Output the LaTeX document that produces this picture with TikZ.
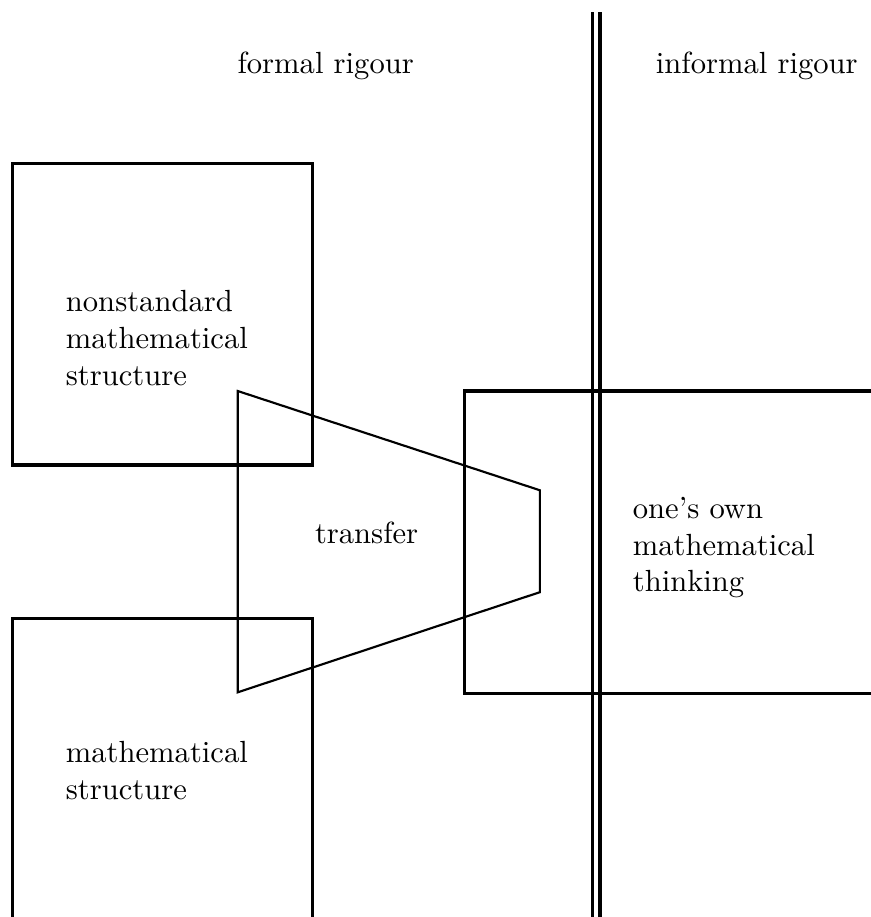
\documentclass[tikz,border=0pt]{standalone}
\usepackage{tikz}

\tikzset{
    frame/.style={line width=1pt},
    txt/.style={inner sep=0pt, align=left, anchor=west},
}

\begin{document}
\begin{tikzpicture}
            \useasboundingbox (0,0) rectangle (10,10.53);
            % the two regions, split by a double rule
            \draw[frame] (6.80,0) -- (6.80,10.39);
            \draw[frame] (6.89,0) -- (6.89,10.39);
            \node[inner sep=0pt, anchor=base] (formal) at (3.74,9.69) {formal rigour};
            \node[inner sep=0pt, anchor=base] (informal) at (8.69,9.69) {informal rigour};
            % boxes
            \draw[frame] (0.14,5.19) rectangle (3.59,8.65);
            \draw[frame] (0.14,0) -- (0.14,3.43) -- (3.59,3.43) -- (3.59,0);
            \draw[frame] (10,6.04) -- (5.33,6.04) -- (5.33,2.57) -- (10,2.57);
            % transfer
            \draw[line width=0.7pt] (2.73,2.58) -- (2.73,6.04) -- (6.20,4.90) -- (6.20,3.73) -- cycle;
            \node[txt] (nonstd) at (0.75,6.65) {nonstandard\\mathematical\\structure};
            \node[txt] (std) at (0.75,1.68) {mathematical\\structure};
            \node[inner sep=0pt] (transfer) at (4.21,4.41) {transfer};
            \node[txt] (own) at (7.26,4.24) {one's own\\mathematical\\thinking};
        \end{tikzpicture}
\end{document}
